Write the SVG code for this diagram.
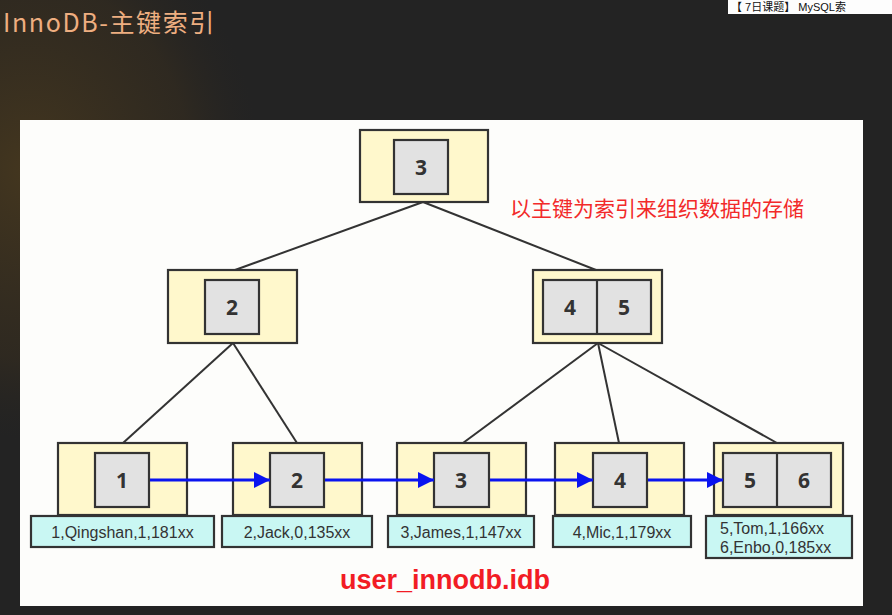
<svg xmlns="http://www.w3.org/2000/svg" width="892" height="615" viewBox="0 0 892 615">
<defs>
<radialGradient id="glow" cx="0.5" cy="0.5" r="0.5">
<stop offset="0" stop-color="#4a3a1e" stop-opacity="0.85"/>
<stop offset="0.7" stop-color="#3a2f1e" stop-opacity="0.5"/>
<stop offset="1" stop-color="#2a2620" stop-opacity="0"/>
</radialGradient>
<marker id="arr" viewBox="0 0 10 10" refX="10" refY="5" markerWidth="22" markerHeight="16" markerUnits="userSpaceOnUse" orient="auto">
<path d="M0,0 L10,5 L0,10 Z" fill="#0a14f0"/>
</marker>
<style>
.outer{fill:#fff8cc;stroke:#333;stroke-width:2.2}
.inner{fill:#e2e2e2;stroke:#333;stroke-width:2.2}
.data{fill:#c9f7f3;stroke:#333;stroke-width:2.2}
.num{font-family:"Open Sans","Liberation Sans",sans-serif;font-weight:bold;font-size:21px;fill:#333;text-anchor:middle}
.dt{font-family:"Liberation Sans","Open Sans",sans-serif;font-size:16px;fill:#333}
.edge{stroke:#333;stroke-width:2;fill:none}
.link{stroke:#0a14f0;stroke-width:3;fill:none;marker-end:url(#arr)}
</style>
</defs>
<rect width="892" height="615" fill="#232323"/>
<ellipse cx="30" cy="170" rx="230" ry="270" fill="url(#glow)"/>
<text x="3" y="32" font-family="'Noto Sans CJK SC','DejaVu Sans Mono',sans-serif" font-size="25" letter-spacing="1.6" fill="#eeae80">InnoDB-主键索引</text>
<rect x="728" y="0" width="164" height="14" fill="#fdfdfd"/>
<text x="731" y="11" font-family="'Liberation Sans','Noto Sans CJK SC',sans-serif" font-size="11" fill="#111">【 7日课题】 MySQL索</text>
<rect x="20" y="120" width="843" height="486" fill="#fdfdfb"/>

<g id="root">
<rect class="outer" x="360" y="130" width="128" height="72"/>
<rect class="inner" x="394" y="140" width="54" height="54"/>
<text class="num" x="421" y="175">3</text>
</g>
<g id="mid-left">
<rect class="outer" x="168" y="270" width="129" height="73"/>
<rect class="inner" x="205" y="280" width="54" height="54"/>
<text class="num" x="232" y="315">2</text>
</g>
<g id="mid-right">
<rect class="outer" x="533" y="270" width="129" height="73"/>
<rect class="inner" x="543" y="280" width="108" height="54"/>
<line x1="597" y1="280" x2="597" y2="334" stroke="#333" stroke-width="2.2"/>
<text class="num" x="570" y="315">4</text>
<text class="num" x="624" y="315">5</text>
</g>

<g id="leaf1">
<rect class="outer" x="58" y="443" width="129" height="72"/>
<rect class="inner" x="95" y="453" width="54" height="54"/>
<text class="num" x="122" y="488">1</text>
<rect class="data" x="31" y="516" width="183" height="31"/>
<text class="dt" x="122.5" y="538" text-anchor="middle">1,Qingshan,1,181xx</text>
</g>
<g id="leaf2">
<rect class="outer" x="233" y="443" width="129" height="72"/>
<rect class="inner" x="270" y="453" width="54" height="54"/>
<text class="num" x="297" y="488">2</text>
<rect class="data" x="222" y="516" width="150" height="31"/>
<text class="dt" x="297" y="538" text-anchor="middle">2,Jack,0,135xx</text>
</g>
<g id="leaf3">
<rect class="outer" x="397" y="443" width="129" height="72"/>
<rect class="inner" x="434" y="453" width="55" height="54"/>
<text class="num" x="461" y="488">3</text>
<rect class="data" x="388" y="516" width="146" height="31"/>
<text class="dt" x="461" y="538" text-anchor="middle">3,James,1,147xx</text>
</g>
<g id="leaf4">
<rect class="outer" x="555" y="443" width="129" height="72"/>
<rect class="inner" x="593" y="453" width="54" height="54"/>
<text class="num" x="620" y="488">4</text>
<rect class="data" x="553" y="516" width="138" height="31"/>
<text class="dt" x="622" y="538" text-anchor="middle">4,Mic,1,179xx</text>
</g>
<g id="leaf5">
<rect class="outer" x="714" y="443" width="129" height="72"/>
<rect class="inner" x="723" y="453" width="108" height="54"/>
<line x1="777" y1="453" x2="777" y2="507" stroke="#333" stroke-width="2.2"/>
<text class="num" x="750" y="488">5</text>
<text class="num" x="804" y="488">6</text>
<rect class="data" x="706" y="516" width="146" height="42"/>
<text class="dt" x="720" y="534">5,Tom,1,166xx</text>
<text class="dt" x="720" y="553">6,Enbo,0,185xx</text>
</g>

<g id="connectors">
<line class="edge" x1="423" y1="202" x2="235" y2="270"/>
<line class="edge" x1="423" y1="202" x2="596" y2="270"/>
<line class="edge" x1="233" y1="343" x2="123" y2="443"/>
<line class="edge" x1="233" y1="343" x2="297" y2="443"/>
<line class="edge" x1="598" y1="343" x2="463" y2="443"/>
<line class="edge" x1="598" y1="343" x2="619" y2="443"/>
<line class="edge" x1="598" y1="343" x2="777" y2="443"/>
<line class="link" x1="150" y1="480" x2="270" y2="480"/>
<line class="link" x1="325" y1="480" x2="434" y2="480"/>
<line class="link" x1="490" y1="480" x2="593" y2="480"/>
<line class="link" x1="648" y1="480" x2="723" y2="480"/>
</g>

<text x="510" y="216" font-family="'Noto Sans CJK SC',sans-serif" font-size="21" fill="#f22a2a">以主键为索引来组织数据的存储</text>
<text x="445" y="589" text-anchor="middle" font-family="'Liberation Sans',sans-serif" font-weight="bold" font-size="27" fill="#f21c24">user_innodb.idb</text>
</svg>
